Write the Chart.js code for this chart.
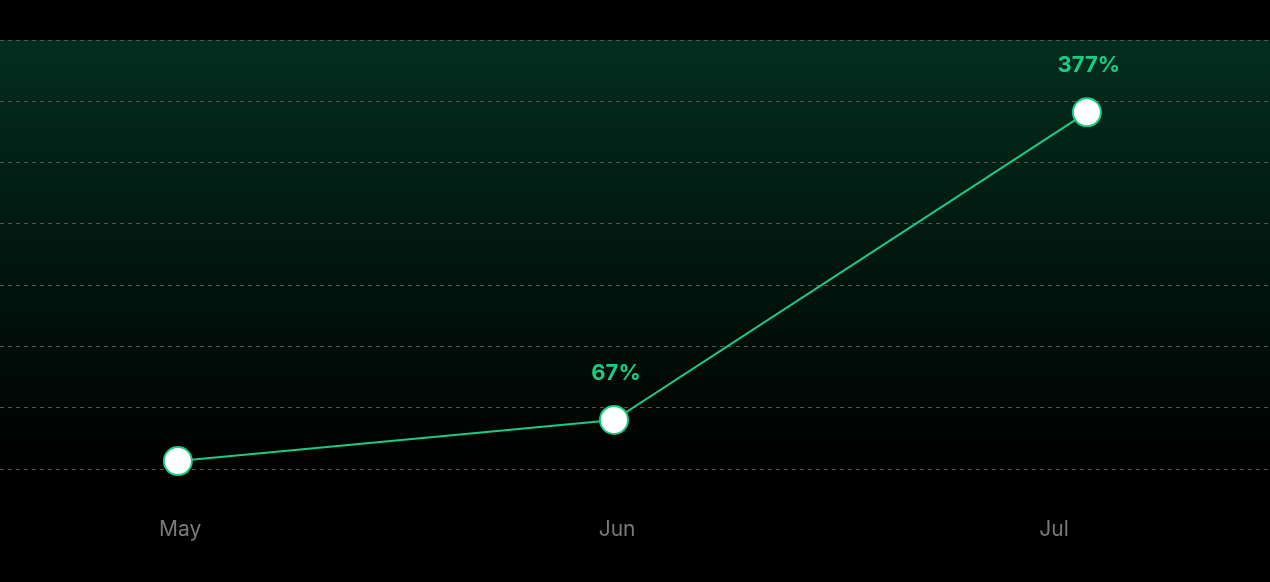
<!DOCTYPE html>
<html>
<head>
<meta charset="utf-8">
<script src="https://cdn.jsdelivr.net/npm/chart.js@4"></script>
<style>
  html, body { margin: 0; padding: 0; background: #000; }
  #wrap { width: 1270px; height: 582px; }
</style>
</head>
<body>
<div id="wrap"><canvas id="growth"></canvas></div>
<script>
// month ticks and the points (x position on the month axis, y value)
var months = ['May', 'Jun', 'Jul'];
var pointX = [-0.005, 0.993, 2.075];
var pointY = [0.13, 0.8, 5.82];
var pointLabels = ['', '67%', '377%'];

var green = '#19cc84';

// dark green wash behind the plot area
var areaGradient = {
    id: 'areaGradient',
    beforeDraw: function (chart) {
        var ctx = chart.ctx, a = chart.chartArea;
        var g = ctx.createLinearGradient(0, a.top, 0, a.bottom);
        g.addColorStop(0, '#032e1f');
        g.addColorStop(1, '#000000');
        ctx.save();
        ctx.fillStyle = g;
        ctx.fillRect(0, a.top, chart.width, a.bottom - a.top);
        ctx.restore();
    }
};

// percent labels over the points
var valueLabels = {
    id: 'valueLabels',
    afterDatasetsDraw: function (chart) {
        var ctx = chart.ctx;
        var meta = chart.getDatasetMeta(0);
        ctx.save();
        ctx.font = '700 22px Inter, "Noto Sans", sans-serif';
        ctx.fillStyle = green;
        ctx.textAlign = 'center';
        ctx.textBaseline = 'middle';
        meta.data.forEach(function (pt, i) {
            if (pointLabels[i]) ctx.fillText(pointLabels[i], pt.x + 2, pt.y - 47);
        });
        ctx.restore();
    }
};

var ctx = document.getElementById('growth').getContext('2d');
var growthChart = new Chart(ctx, {
    type: 'line',
    data: {
        datasets: [{
            data: pointX.map(function (x, i) { return { x: x, y: pointY[i] }; }),
            borderColor: green,
            borderWidth: 2,
            pointRadius: 14,
            pointHoverRadius: 14,
            pointBackgroundColor: '#ffffff',
            pointBorderColor: green,
            pointBorderWidth: 2,
            tension: 0,
            clip: false
        }]
    },
    options: {
        responsive: true,
        maintainAspectRatio: false,
        animation: false,
        layout: { autoPadding: false, padding: { top: 40, left: 0, right: 0, bottom: 0 } },
        plugins: { legend: { display: false }, tooltip: { enabled: false } },
        scales: {
            x: {
                type: 'linear',
                min: -0.412,
                max: 2.494,
                afterBuildTicks: function (s) {
                    s.ticks = months.map(function (m, i) { return { value: i }; });
                },
                afterFit: function (s) { s.height = 113; },
                grid: { display: false },
                border: { display: false },
                ticks: {
                    autoSkip: false,
                    maxRotation: 0,
                    padding: 40,
                    color: '#7a7a7a',
                    font: { family: 'Inter, "Noto Sans", sans-serif', size: 21 },
                    callback: function (v) { return months[v]; }
                }
            },
            y: {
                min: 0,
                max: 7,
                afterFit: function (s) { s.width = 0; },
                ticks: { display: false, stepSize: 1 },
                border: { display: false, dash: [4, 4] },
                grid: {
                    color: '#555555',
                    lineWidth: 1,
                    drawTicks: false
                }
            }
        }
    },
    plugins: [areaGradient, valueLabels]
});
</script>
</body>
</html>
